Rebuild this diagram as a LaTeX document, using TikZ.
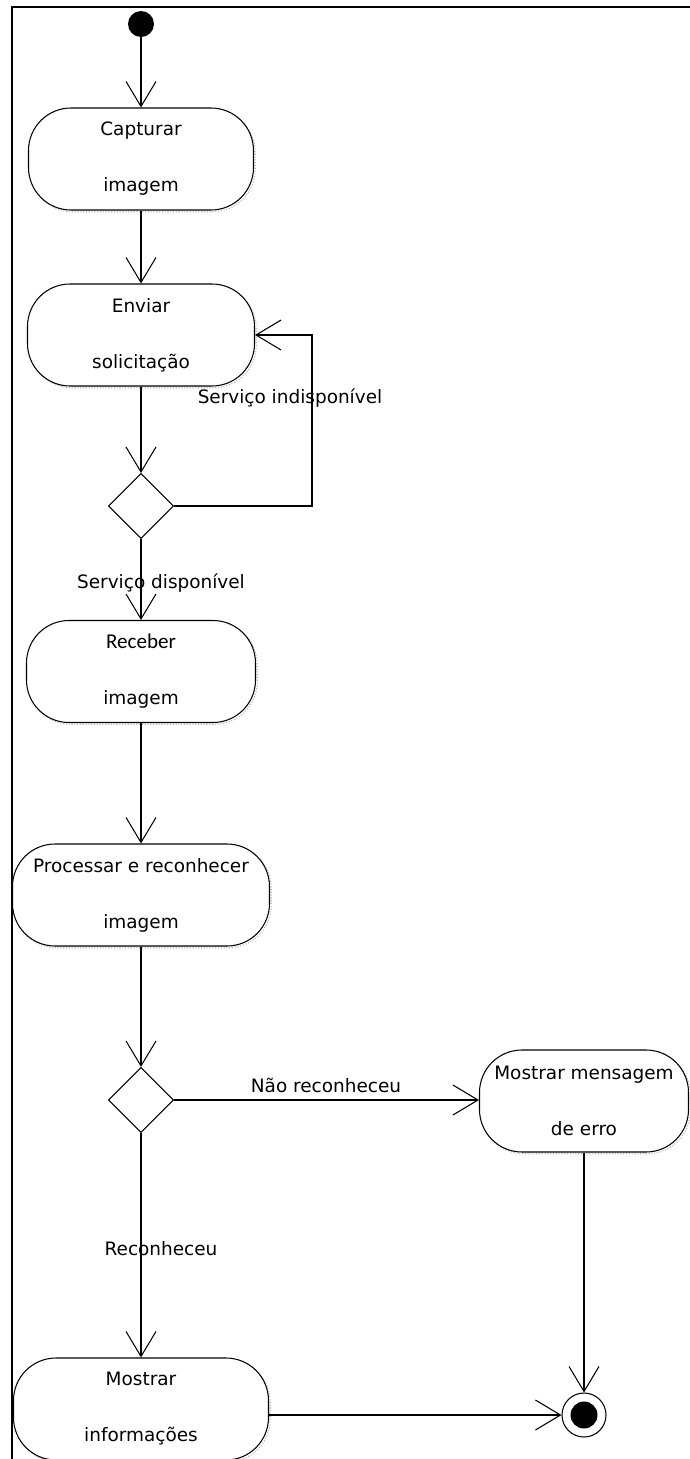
\documentclass[tikz,border=0pt]{standalone}
\usepackage{fontspec}
\setmainfont{DejaVu Sans}
\newfontfamily\carlito{Carlito}
\usetikzlibrary{arrows.meta, shapes.geometric, shadows}

\begin{document}
\begin{tikzpicture}[
        every node/.style={font=\fontsize{10.5}{12.6}\selectfont},
        activity/.style={draw, fill=white, line width=0.6pt, rounded corners=0.85cm,
            minimum height=2.04cm, align=center, inner sep=0pt,
            copy shadow={shadow xshift=0.035cm, shadow yshift=-0.035cm,
                draw=gray!60, densely dotted, fill=none}},
        decision/.style={draw, fill=white, line width=0.6pt, diamond, aspect=1,
            minimum size=1.3cm, inner sep=0pt},
        guard/.style={inner sep=1pt},
        flow/.style={-{Straight Barb[length=0.5cm, width=0.6cm]}, line width=0.6pt}
    ]
    \useasboundingbox (0, 0) rectangle (13.8, -29.18);

    % frame
    \draw[line width=1.1pt] (0.24, -29.18) -- (0.24, -0.14) -- (13.8, -0.14);

    \node[circle, fill=black, minimum size=0.52cm, inner sep=0pt] (start) at (2.82, -0.48) {};

    \node[activity, minimum width=4.5cm] (capt) at (2.82, -3.18) {Capturar\\[19.3pt]imagem};
    \node[activity, minimum width=4.54cm] (env) at (2.82, -6.7) {Enviar\\[19.3pt]solicitação};
    \node[decision] (dec1) at (2.82, -10.12) {};
    \node[activity, minimum width=4.58cm] (rec) at (2.82, -13.43)
        {{\carlito\fontsize{12}{14}\selectfont Receber}\\[19.3pt]imagem};
    \node[activity, minimum width=5.14cm] (proc) at (2.82, -17.9) {Processar e reconhecer\\[19.3pt]imagem};
    \node[decision] (dec2) at (2.82, -22.0) {};
    \node[activity, minimum width=4.18cm] (erro) at (11.68, -22.02) {Mostrar mensagem\\[19.3pt]de erro};
    \node[activity, minimum width=5.1cm] (info) at (2.82, -28.18) {Mostrar\\[19.3pt]informações};
    \node[circle, draw, line width=0.6pt, minimum size=0.88cm, inner sep=0pt,
        path picture={\fill (path picture bounding box.center) circle (0.27cm);}] (final) at (11.68, -28.3) {};

    \coordinate (loop) at (6.24, -8.4);

    \node[guard] (indisp) at (5.8, -7.96) {Serviço indisponível};
    \node[guard] (disp) at (3.22, -11.66) {Serviço disponível};
    \node[guard] (nao) at (6.52, -21.7) {Não reconheceu};
    \node[guard] (sim) at (3.22, -24.98) {Reconheceu};

    \draw[flow] (start) -- (capt);
    \draw[flow] (capt) -- (env);
    \draw[flow] (env) -- (dec1);
    \draw[flow] (dec1.east) -| (loop) |- (env.east);
    \draw[flow] (dec1) -- (rec);
    \draw[flow] (rec) -- (proc);
    \draw[flow] (proc) -- (dec2);
    \draw[flow] (dec2.east) -- (dec2.east -| erro.west);
    \draw[flow] (dec2) -- (info);
    \draw[flow] (erro) -- (final);
    \draw[flow] (final.west -| info.east) -- (final.west);
\end{tikzpicture}
\end{document}
